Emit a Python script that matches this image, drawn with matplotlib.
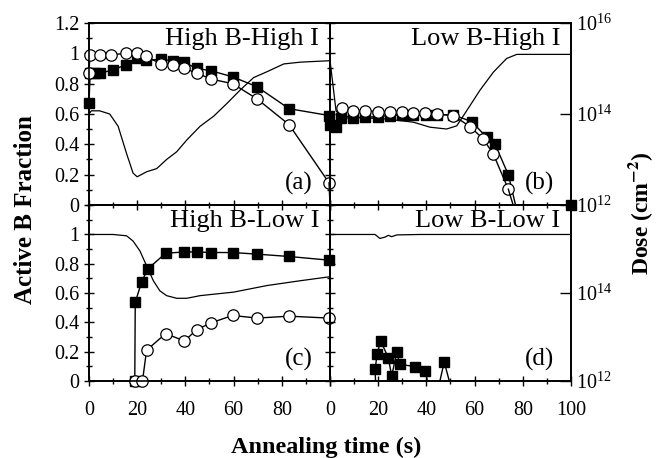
import matplotlib
matplotlib.use("Agg")
import matplotlib.pyplot as plt
import numpy as np
from matplotlib.ticker import FixedLocator, MultipleLocator, LogLocator, NullFormatter

plt.rcParams["font.family"] = ["Liberation Serif", "DejaVu Serif"]
plt.rcParams["mathtext.fontset"] = "stix"

# ── (a) High B-High I ──
a_circ_t = [0, 0.4, 4.7, 9.3, 15.3, 20, 23.5, 30, 35, 39.6, 44.7, 50.7, 59.6, 69.7, 83, 99.6]
a_circ_f = [0.87, 0.99, 0.99, 0.99, 1.0, 1.0, 0.98, 0.93, 0.92, 0.90, 0.87, 0.83, 0.80, 0.70, 0.53, 0.146]
a_sq_t = [0, 0.5, 2.4, 4.7, 10, 15.3, 20, 23.5, 30, 35, 39.6, 44.7, 50.7, 59.6, 69.7, 83, 99.6]
a_sq_f = [0.67, 0.87, 0.87, 0.87, 0.89, 0.925, 0.97, 0.955, 0.96, 0.95, 0.94, 0.90, 0.885, 0.845, 0.78, 0.635, 0.59]
a_dose_t = [0, 1, 4.4, 8.6, 12.1, 15.6, 18.3, 20, 23.9, 28.1, 32.2, 36.4, 40.6, 46.1, 51.7, 57.2, 62.8, 68.3, 73.9, 80.8, 87.8, 99.6]
a_dose_exp = [14.0, 14.07, 14.07, 14.0, 13.73, 13.13, 12.7, 12.62, 12.73, 12.8, 13.0, 13.17, 13.43, 13.73, 13.95,
              14.23, 14.53, 14.8, 14.93, 15.1, 15.14, 15.17]

# ── (b) Low B-High I ──
b_circ_t = [4.8, 9.7, 14.5, 20, 24.9, 29.7, 34.6, 39.4, 44.3, 51.2, 58.1, 63.6, 67.8, 74]
b_circ_f = [0.64, 0.62, 0.62, 0.616, 0.616, 0.616, 0.605, 0.605, 0.60, 0.59, 0.517, 0.435, 0.335, 0.104]
b_sq_t = [0, 2.5, 4.4, 9.7, 14.5, 20, 24.9, 29.7, 34.6, 39.8, 44.3, 51.2, 58.8, 65, 68.5, 74]
b_sq_f = [0.53, 0.517, 0.574, 0.574, 0.578, 0.583, 0.59, 0.594, 0.594, 0.594, 0.594, 0.594, 0.55, 0.446, 0.40, 0.20]
b_dose_t = [0, 2.5, 4.1, 9.7, 23.5, 34.6, 41.5, 48.4, 52.6, 56.7, 62.2, 67.8, 73.3, 77.5, 85.8, 100]
b_dose_exp = [15.18, 14.07, 13.97, 13.93, 13.89, 13.82, 13.71, 13.67, 13.74, 14.07, 14.52, 14.92, 15.22, 15.31, 15.31, 15.31]

# ── (c) High B-Low I ──
c_sq_t = [19, 19.2, 21.8, 24.3, 31.8, 39.6, 44.7, 50.7, 59.6, 69.7, 83, 99.6]
c_sq_f = [0, 0.537, 0.673, 0.763, 0.871, 0.88, 0.88, 0.876, 0.876, 0.865, 0.849, 0.824]
c_circ_t = [19, 22.2, 23.9, 31.8, 39.6, 44.7, 50.7, 59.6, 69.7, 83, 99.6]
c_circ_f = [0, 0, 0.21, 0.323, 0.273, 0.35, 0.397, 0.447, 0.429, 0.442, 0.429]
c_dose_t = [0, 10, 15.6, 18.3, 21.1, 23.9, 26.7, 29.4, 32.2, 36.4, 40.6, 46.1, 53, 60, 73.9, 87.8, 100]
c_dose_exp = [15.33, 15.33, 15.3, 15.18, 14.96, 14.62, 14.28, 14.05, 13.94, 13.88, 13.88, 13.94, 13.98, 14.02,
              14.17, 14.28, 14.37]

# ── (d) Low B-Low I ──
d_sq_t = [18.7, 19.6, 21, 24.2, 25.6, 27.7, 29, 35.3, 39.6, 47.4]
d_sq_f = [0.08, 0.186, 0.273, 0.159, 0.034, 0.198, 0.114, 0.098, 0.068, 0.13]
d_line_t = [18.9, 18.7, 19.6, 21, 24.2, 25.6, 27.7, 29, 35.3, 39.6, 40.4, np.nan, 45.6, 47.4, 49.5]
d_line_f = [0, 0.08, 0.186, 0.273, 0.159, 0.034, 0.198, 0.114, 0.098, 0.068, 0, np.nan, 0, 0.13, 0]
d_dose_t = [0, 9.7, 18.7, 20.7, 22.8, 24.2, 25.6, 27.7, 37.3, 65, 100]
d_dose_exp = [15.33, 15.33, 15.33, 15.24, 15.27, 15.31, 15.28, 15.32, 15.33, 15.33, 15.33]

x_ticks = [0, 20, 40, 60, 80, 100]
y_ticks_top = [0, 0.2, 0.4, 0.6, 0.8, 1.0, 1.2]
y_labels_top = ["0", "0.2", "0.4", "0.6", "0.8", "1", "1.2"]

fig = plt.figure(figsize=(6.62, 4.58), dpi=100)
L, M, R = 0.1344, 0.4985, 0.8625
B, Mid, T = 0.1681, 0.5524, 0.9498

sq_kw = dict(color="black", marker="s", markersize=7.8, lw=1.0, markerfacecolor="black")
ci_kw = dict(color="black", marker="o", markersize=8.2, lw=1.0, markerfacecolor="white",
             markeredgewidth=0.9)


def make_panel(rect, left, bottom, title, tag):
    ax = fig.add_axes(rect)
    ax.set_xlim(0, 100)
    ax.set_ylim(0, 1.2)
    for s in ax.spines.values():
        s.set_linewidth(1.2)
    ax.set_xticks(x_ticks)
    ax.xaxis.set_minor_locator(MultipleLocator(10))
    if bottom:
        ax.set_yticks(y_ticks_top[:-1])
        ax.set_yticklabels(y_labels_top[:-1])
    else:
        ax.set_yticks(y_ticks_top)
        ax.set_yticklabels(y_labels_top)
    ax.yaxis.set_minor_locator(MultipleLocator(0.1))
    ax.tick_params(which="both", direction="inout", labelsize=14.5, width=1.0)
    ax.tick_params(which="major", length=7)
    ax.tick_params(which="minor", length=4)
    ax.tick_params(axis="x", pad=11)
    if not bottom:
        ax.tick_params(labelbottom=False)
    else:
        ax.set_xticklabels([str(v) for v in x_ticks[:-1]] + ([""] if left else ["100"]))
    if not left:
        ax.tick_params(labelleft=False)

    ax2 = ax.twinx()
    ax2.set_yscale("log")
    ax2.set_ylim(1e12, 1e16)
    ax2.set_xlim(0, 100)
    ax2.set_zorder(ax.get_zorder() - 1)
    ax.patch.set_visible(False)
    if left:
        ax2.tick_params(which="both", right=False, labelright=False)
    else:
        ax2.yaxis.set_major_locator(FixedLocator([1e12, 1e14, 1e16] if not bottom else [1e12, 1e14]))
        ax2.yaxis.set_minor_locator(LogLocator(base=10, subs=np.arange(1, 10)))
        ax2.yaxis.set_minor_formatter(NullFormatter())
        ax2.tick_params(which="both", direction="in", labelsize=14.5)
        ax2.tick_params(which="major", length=8, width=1.0)
        ax2.tick_params(which="minor", length=4, width=0.7)
    for s in ax2.spines.values():
        s.set_linewidth(1.2)

    ax.text(0.955, 0.91, title, transform=ax.transAxes, ha="right", va="center", fontsize=19)
    ax.text(0.87, 0.12, tag, transform=ax.transAxes, ha="center", va="center", fontsize=18)
    return ax, ax2


ax_a, ax_a2 = make_panel([L, Mid, M - L, T - Mid], True, False, "High B-High I", "(a)")
ax_b, ax_b2 = make_panel([M, Mid, R - M, T - Mid], False, False, "Low B-High I", "(b)")
ax_c, ax_c2 = make_panel([L, B, M - L, Mid - B], True, True, "High B-Low I", "(c)")
ax_d, ax_d2 = make_panel([M, B, R - M, Mid - B], False, True, "Low B-Low I", "(d)")

dose_kw = dict(color="black", lw=0.9)
ax_a2.plot(a_dose_t, 10 ** np.array(a_dose_exp), **dose_kw)
ax_b2.plot(b_dose_t, 10 ** np.array(b_dose_exp), **dose_kw)
ax_c2.plot(c_dose_t, 10 ** np.array(c_dose_exp), **dose_kw)
ax_d2.plot(d_dose_t, 10 ** np.array(d_dose_exp), **dose_kw)

# (a)
ax_a.plot(a_sq_t, a_sq_f, clip_on=False, **sq_kw)
ax_a.plot(a_circ_t, a_circ_f, clip_on=False, **ci_kw)
ax_a.plot([a_circ_t[-1], 100], [a_circ_f[-1], 0], color="black", lw=1.0)
ax_a.plot([a_sq_t[-1], 100], [a_sq_f[-1], b_sq_f[0]], color="black", lw=1.0)

# (b)
ax_b.plot(b_sq_t, b_sq_f, clip_on=False, **sq_kw)
ax_b.plot([b_sq_t[-1], 77], [b_sq_f[-1], 0], color="black", lw=1.0)
ax_b.plot(b_circ_t, b_circ_f, clip_on=False, **ci_kw)
ax_b.plot([b_circ_t[-1], 76], [b_circ_f[-1], 0], color="black", lw=1.0)
ax_b.plot([100], [0], clip_on=False, **sq_kw)

# (c)
ax_c.plot(c_sq_t, c_sq_f, clip_on=False, **sq_kw)
ax_c.plot(c_circ_t, c_circ_f, clip_on=False, **ci_kw)

# (d)
ax_d.plot(d_line_t, d_line_f, color="black", lw=1.0)
ax_d.plot(d_sq_t, d_sq_f, ls="none", **{k: v for k, v in sq_kw.items() if k != "lw"})

fig.text(0.038, 0.5415, "Active B Fraction", rotation=90, ha="center", va="center",
         fontsize=18, fontweight="bold")
fig.text(0.968, 0.535, r"Dose (cm$^{\mathbf{-2}}$)", rotation=90, ha="center", va="center",
         fontsize=17, fontweight="bold")
fig.text(0.4925, 0.024, "Annealing time (s)", ha="center", va="center", fontsize=17.5, fontweight="bold")

fig.savefig("out.png", dpi=100)
